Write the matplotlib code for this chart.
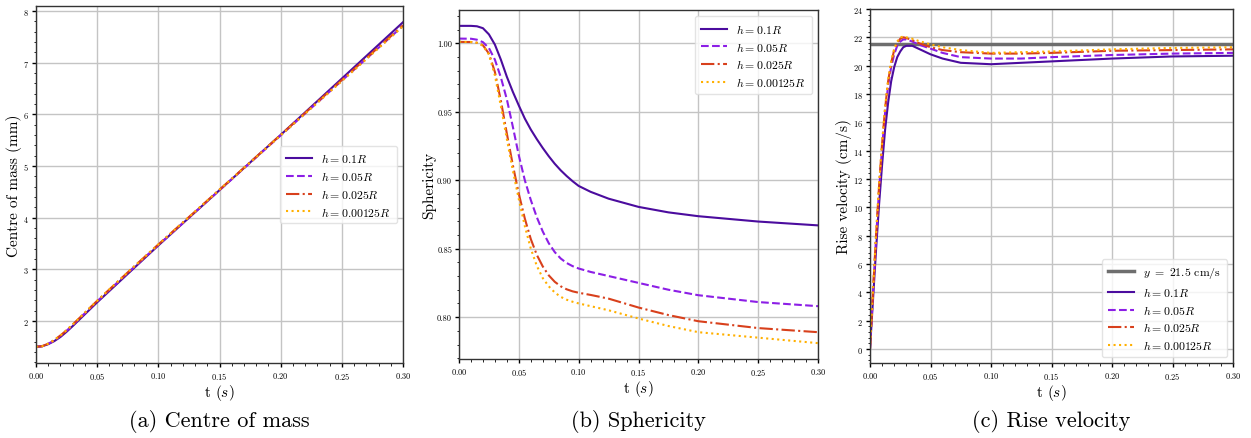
import numpy as np
import matplotlib
matplotlib.use('Agg')
import matplotlib.pyplot as plt
from matplotlib.ticker import AutoMinorLocator, MultipleLocator, FormatStrFormatter

plt.rcParams['font.family'] = 'serif'
plt.rcParams['font.serif'] = ['cmr10', 'DejaVu Serif']
plt.rcParams['mathtext.fontset'] = 'cm'
plt.rcParams['axes.formatter.use_mathtext'] = True

# 图例标签与线型
labels = [r'$h = 0.1R$', r'$h = 0.05R$', r'$h = 0.025R$', r'$h = 0.00125R$']
colors = ['#4b0c9e', '#8c1ee6', '#d8401c', '#ffb000']
styles = ['-', '--', '-.', ':']

# (a) 质心位置
t_com = [0.0, 0.005, 0.01, 0.015, 0.02, 0.025, 0.03, 0.04, 0.05, 0.075, 0.1, 0.15, 0.2, 0.25, 0.3]
com_01 = [1.50, 1.51, 1.55, 1.61, 1.69, 1.79, 1.90, 2.13, 2.36, 2.91, 3.46, 4.53, 5.60, 6.69, 7.78]
com_005 = [1.50, 1.51, 1.56, 1.62, 1.71, 1.81, 1.92, 2.15, 2.38, 2.93, 3.47, 4.53, 5.59, 6.65, 7.71]
com_0025 = [1.50, 1.51, 1.56, 1.63, 1.72, 1.82, 1.93, 2.16, 2.39, 2.94, 3.48, 4.54, 5.60, 6.66, 7.72]
com_000125 = [1.50, 1.51, 1.56, 1.63, 1.72, 1.82, 1.93, 2.16, 2.39, 2.94, 3.48, 4.54, 5.59, 6.64, 7.70]

# (b) 球形度
t_sph = [0.0, 0.01, 0.015, 0.02, 0.025, 0.03, 0.035, 0.04, 0.045, 0.05, 0.055, 0.06, 0.065, 0.07,
         0.075, 0.08, 0.085, 0.09, 0.095, 0.1, 0.11, 0.125, 0.15, 0.175, 0.2, 0.25, 0.3]
sph_01 = [1.0127, 1.0127, 1.0124, 1.0110, 1.0065, 0.9990, 0.9880, 0.9755, 0.9645, 0.9545, 0.9450,
          0.9370, 0.9300, 0.9235, 0.9175, 0.9120, 0.9072, 0.9030, 0.8992, 0.8958, 0.8915, 0.8865,
          0.8805, 0.8765, 0.8737, 0.8698, 0.8670]
sph_005 = [1.0034, 1.0033, 1.0026, 1.0008, 0.9965, 0.9880, 0.9750, 0.9590, 0.9390, 0.9180, 0.9000,
           0.8855, 0.8730, 0.8625, 0.8540, 0.8475, 0.8428, 0.8395, 0.8372, 0.8355, 0.8330, 0.8300,
           0.8250, 0.8200, 0.8160, 0.8110, 0.8080]
sph_0025 = [1.0010, 1.0009, 1.0004, 0.9985, 0.9925, 0.9790, 0.9580, 0.9340, 0.9110, 0.8900, 0.8720,
            0.8570, 0.8455, 0.8370, 0.8305, 0.8258, 0.8225, 0.8203, 0.8188, 0.8178, 0.8162, 0.8135,
            0.8070, 0.8015, 0.7970, 0.7920, 0.7890]
sph_000125 = [1.0010, 1.0009, 1.0003, 0.9982, 0.9918, 0.9765, 0.9540, 0.9300, 0.9070, 0.8860, 0.8665,
              0.8500, 0.8375, 0.8285, 0.8225, 0.8180, 0.8148, 0.8127, 0.8112, 0.8100, 0.8080, 0.8050,
              0.7990, 0.7935, 0.7890, 0.7850, 0.7810]

# (c) 上升速度
t_vel = [0.0, 0.0025, 0.005, 0.0075, 0.01, 0.0125, 0.015, 0.0175, 0.02, 0.0225, 0.025, 0.0275, 0.03,
         0.035, 0.04, 0.05, 0.06, 0.075, 0.1, 0.125, 0.15, 0.2, 0.25, 0.3]
vel_01 = [0.0, 3.5, 7.0, 10.2, 13.0, 15.5, 17.4, 18.9, 19.9, 20.6, 21.0, 21.3, 21.4,
          21.4, 21.2, 20.8, 20.5, 20.2, 20.1, 20.2, 20.3, 20.5, 20.65, 20.7]
vel_005 = [0.0, 4.0, 7.8, 11.2, 14.2, 16.7, 18.6, 19.9, 20.8, 21.4, 21.7, 21.85, 21.85,
           21.7, 21.5, 21.2, 20.9, 20.6, 20.5, 20.5, 20.6, 20.75, 20.85, 20.9]
vel_0025 = [0.0, 4.1, 8.0, 11.5, 14.5, 17.0, 18.9, 20.2, 21.1, 21.6, 21.9, 22.0, 21.95,
            21.8, 21.6, 21.3, 21.1, 20.95, 20.85, 20.85, 20.9, 21.05, 21.1, 21.15]
vel_000125 = [0.0, 4.2, 8.1, 11.6, 14.6, 17.1, 19.0, 20.3, 21.2, 21.7, 22.0, 22.05, 22.0,
              21.9, 21.75, 21.5, 21.3, 21.1, 20.9, 20.95, 21.0, 21.15, 21.25, 21.3]
v_ref = 21.5

W, H = 1251, 439
fig = plt.figure(figsize=(W / 100, H / 100), dpi=100)


def px_axes(left, top, right, bottom):
    return fig.add_axes([left / W, 1 - bottom / H, (right - left) / W, (bottom - top) / H])


def style_axes(ax):
    ax.set_xlim(0, 0.3)
    ax.xaxis.set_major_locator(MultipleLocator(0.05))
    ax.xaxis.set_minor_locator(AutoMinorLocator(5))
    ax.yaxis.set_minor_locator(AutoMinorLocator(5))
    ax.grid(True, which='major', color='#c4c4c4', linewidth=1.0)
    ax.tick_params(which='major', direction='out', length=3, width=1.0, labelsize=6, pad=2)
    ax.tick_params(which='minor', direction='out', length=1.8, width=0.6)
    for sp in ax.spines.values():
        sp.set_color('#333333')
        sp.set_linewidth(1.0)
    ax.set_xlabel(r't $(s)$', fontsize=11, labelpad=1)


def draw_series(ax, t, series):
    for y, lab, c, ls in zip(series, labels, colors, styles):
        ax.plot(t, y, color=c, linestyle=ls, linewidth=1.5, label=lab)


legend_kw = dict(fontsize=8.5, framealpha=0.8, edgecolor='#dddddd', handlelength=2.2,
                 borderpad=0.5, labelspacing=0.4)

# (a)
ax1 = px_axes(36, 7, 403, 364)
draw_series(ax1, t_com, [com_01, com_005, com_0025, com_000125])
style_axes(ax1)
ax1.yaxis.set_major_locator(MultipleLocator(1))
ax1.set_ylabel('Centre of mass (mm)', fontsize=11, labelpad=1)
ax1.legend(loc='center right', **legend_kw)

# (b)
ax2 = px_axes(459, 11, 818, 360)
draw_series(ax2, t_sph, [sph_01, sph_005, sph_0025, sph_000125])
style_axes(ax2)
ax2.yaxis.set_major_locator(MultipleLocator(0.05))
ax2.yaxis.set_major_formatter(FormatStrFormatter('%.2f'))
ax2.set_ylabel('Sphericity', fontsize=11, labelpad=1)
ax2.legend(loc='upper right', **legend_kw)

# (c)
ax3 = px_axes(870, 10, 1233, 364)
ax3.axhline(v_ref, color='#6e6e6e', linewidth=2.5, label=r'$y\ =\ 21.5$ cm/s')
draw_series(ax3, t_vel, [vel_01, vel_005, vel_0025, vel_000125])
style_axes(ax3)
ax3.set_ylim(-1, 24)
ax3.yaxis.set_major_locator(MultipleLocator(2))
ax3.set_ylabel('Rise velocity (cm/s)', fontsize=11, labelpad=1)
ax3.legend(loc='lower right', **legend_kw)

# 子图标题
for ax, cap in zip([ax1, ax2, ax3], ['(a) Centre of mass', '(b) Sphericity', '(c) Rise velocity']):
    pos = ax.get_position()
    fig.text(pos.x0 + pos.width / 2, 1 - 422 / H, cap, ha='center', va='center', fontsize=16)

fig.savefig('out.png', dpi=100)
